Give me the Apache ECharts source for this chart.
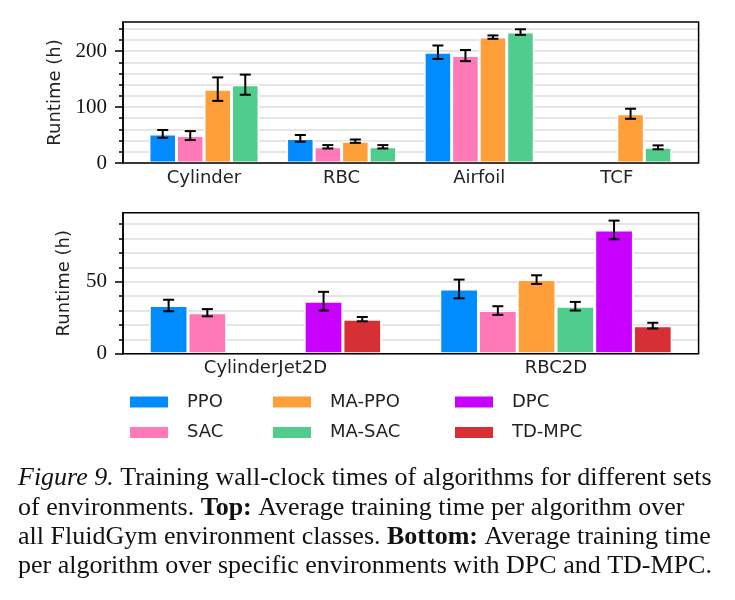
<!DOCTYPE html>
<html>
<head>
<meta charset="utf-8">
<script src="https://cdn.jsdelivr.net/npm/echarts@6/dist/echarts.min.js"></script>
<style>
  html, body { margin: 0; padding: 0; background: #fff; }
  #chart { width: 735px; height: 600px; }
</style>
</head>
<body>
<div id="chart"></div>
<script>
// top panel: environment classes
var topCats = ["Cylinder", "RBC", "Airfoil", "TCF"];
var ppoTop = [52, 44, 198, null];
var ppoTopErr = [7, 6, 12, null];
var sacTop = [49, 29, 192, null];
var sacTopErr = [8, 3, 10, null];
var mappoTop = [132, 39, 225, 88];
var mappoTopErr = [21, 3, 3, 9];
var masacTop = [140, 29, 234, 28];
var masacTopErr = [18, 3, 5, 3.5];

// bottom panel: specific environments
var botCats = ["CylinderJet2D", "RBC2D"];
var ppoBot = [33.5, 45];
var ppoBotErr = [4, 6.5];
var sacBot = [28.5, 30];
var sacBotErr = [2.5, 3];
var mappoBot = [null, 51.5];
var mappoBotErr = [null, 3];
var masacBot = [null, 33];
var masacBotErr = [null, 3];
var dpcBot = [36.5, 86];
var dpcBotErr = [6.5, 6.5];
var tdmpcBot = [24, 19.5];
var tdmpcBotErr = [1.5, 2];

// axis ticks
var topMinorTicks = [0, 20, 40, 60, 80, 100, 120, 140, 160, 180, 200, 220, 240];
var topMajorTicks = [0, 100, 200];
var botMinorTicks = [0, 10, 20, 30, 40, 50, 60, 70, 80, 90];
var botMajorTicks = [0, 50];

var color = {
   "PPO": "#008cff",
   "SAC": "#ff78b8",
   "MA-PPO": "#ff9f3a",
   "MA-SAC": "#50cc8c",
   "DPC": "#c800ff",
   "TD-MPC": "#d63035"
};

var sans = "DejaVu Sans";
var serif = "Liberation Serif";

var chart = echarts.init(document.getElementById("chart"));

function barSeries(name, vals, axisIdx, width) {
   return {
      type: "bar",
      name: name,
      xAxisIndex: axisIdx,
      yAxisIndex: axisIdx + 1,
      data: vals,
      barWidth: width,
      barGap: "0%",
      z: 2,
      itemStyle: { color: color[name], borderColor: "#fff", borderWidth: 1.5 }
   };
}

function errSeries(vals, errs, idx, n, axisIdx) {
   var d = [];
   for (var i = 0; i < vals.length; i++) {
      if (vals[i] != null) d.push([i, vals[i], errs[i]]);
   }
   return {
      type: "custom",
      xAxisIndex: axisIdx,
      yAxisIndex: axisIdx + 1,
      data: d,
      z: 4,
      silent: true,
      renderItem: function (params, api) {
         var c = api.value(0), v = api.value(1), e = api.value(2);
         var band = api.size([1, 0])[0];
         var step = band * 0.8 / n;
         var x = api.coord([c, v])[0] + (idx - (n - 1) / 2) * step;
         var hi = api.coord([c, v + e])[1];
         var lo = api.coord([c, v - e])[1];
         var cap = 5.5;
         var st = { stroke: "#000", lineWidth: 2 };
         return {
            type: "group",
            children: [
               { type: "line", shape: { x1: x, y1: hi, x2: x, y2: lo }, style: st },
               { type: "line", shape: { x1: x - cap, y1: hi, x2: x + cap, y2: hi }, style: st },
               { type: "line", shape: { x1: x - cap, y1: lo, x2: x + cap, y2: lo }, style: st }
            ]
         };
      }
   };
}

function frameY(grid, max, minor, major, gap) {
   return [{
      gridIndex: grid, type: "value", min: 0, max: max, interval: minor[1] - minor[0],
      axisLine: { show: true, lineStyle: { color: "#000", width: 1.5 } },
      axisTick: { show: true, length: 4, customValues: minor, lineStyle: { color: "#000", width: 1.5 } },
      axisLabel: { show: false },
      splitLine: { show: true, lineStyle: { color: "#dcdcdc", width: 1.5 } }
   }, {
      gridIndex: grid, type: "value", min: 0, max: max, position: "left",
      axisLine: { show: false },
      axisTick: { show: true, length: 8, customValues: major, lineStyle: { color: "#000", width: 1.5 } },
      axisLabel: { show: true, customValues: major, margin: 16, fontFamily: serif, fontSize: 21, color: "#111" },
      splitLine: { show: false },
      name: "Runtime (h)", nameLocation: "middle", nameGap: gap,
      nameTextStyle: { fontFamily: sans, fontSize: 18, color: "#222" }
   }];
}

function dataY(grid, max) {
   return { gridIndex: grid, type: "value", min: 0, max: max, show: false, splitLine: { show: false } };
}

function catX(grid, cats) {
   return {
      gridIndex: grid, type: "category", data: cats,
      axisLine: { show: false }, axisTick: { show: false },
      axisLabel: { margin: 6, fontFamily: sans, fontSize: 18, color: "#222" }
   };
}

function legendCol(names, left) {
   return {
      data: names, left: left, top: 393, orient: "vertical", padding: 0,
      itemWidth: 40, itemHeight: 13, itemGap: 12.5, icon: "rect",
      selectedMode: false,
      textStyle: { fontFamily: sans, fontSize: 18, color: "#222", lineHeight: 18, padding: [0, 0, 0, 13] }
   };
}

var capRich = {
   i: { fontFamily: serif, fontSize: 26, fontStyle: "italic", color: "#111" },
   b: { fontFamily: serif, fontSize: 26, fontWeight: "bold", color: "#111" }
};
var captionLines = [
   "{i|Figure 9.} Training wall-clock times of algorithms for different sets",
   "of environments. {b|Top:} Average training time per algorithm over",
   "all FluidGym environment classes. {b|Bottom:} Average training time",
   "per algorithm over specific environments with DPC and TD-MPC."
];
var captionY = [480, 510, 539, 568];

var option = {
   animation: false,
   backgroundColor: "#fff",
   grid: [
      { left: 123, top: 22, width: 575.6, height: 141, show: true, borderColor: "#000", borderWidth: 1.5, z: 5 },
      { left: 135.2, top: 22, width: 550.4, height: 141 },
      { left: 123, top: 212.7, width: 575.6, height: 141, show: true, borderColor: "#000", borderWidth: 1.5, z: 5 },
      { left: 120.2, top: 212.7, width: 581, height: 141 }
   ],
   xAxis: [
      { gridIndex: 0, type: "value", show: false, min: 0, max: 1 },
      catX(1, topCats),
      { gridIndex: 2, type: "value", show: false, min: 0, max: 1 },
      catX(3, botCats)
   ],
   yAxis: [].concat(
      frameY(0, 252, topMinorTicks, topMajorTicks, 58)
   ),
   legend: [
      legendCol(["PPO", "SAC"], 128),
      legendCol(["MA-PPO", "MA-SAC"], 271),
      legendCol(["DPC", "TD-MPC"], 453)
   ],
   graphic: captionLines.map(function (t, i) {
      return {
         type: "text", left: 18, top: captionY[i] - 15,
         style: { text: t, font: "26px 'Liberation Serif'", fill: "#111", rich: capRich }
      };
   }),
   series: []
};

// y axes: 0,1 top frame; 2 top data; 3,4 bottom frame; 5 bottom data
option.yAxis.push(dataY(1, 252));
option.yAxis = option.yAxis.concat(frameY(2, 98, botMinorTicks, botMajorTicks, 50));
option.yAxis.push(dataY(3, 98));

var topSeries = [["PPO", ppoTop, ppoTopErr], ["SAC", sacTop, sacTopErr], ["MA-PPO", mappoTop, mappoTopErr], ["MA-SAC", masacTop, masacTopErr]];
var botSeries = [["PPO", ppoBot, ppoBotErr], ["SAC", sacBot, sacBotErr], ["MA-PPO", mappoBot, mappoBotErr], ["MA-SAC", masacBot, masacBotErr], ["DPC", dpcBot, dpcBotErr], ["TD-MPC", tdmpcBot, tdmpcBotErr]];

topSeries.forEach(function (s) {
   var b = barSeries(s[0], s[1], 1, "20%");
   b.yAxisIndex = 2;
   option.series.push(b);
});
botSeries.forEach(function (s) {
   var b = barSeries(s[0], s[1], 3, "13.333%");
   b.yAxisIndex = 5;
   option.series.push(b);
});
topSeries.forEach(function (s, i) {
   var e = errSeries(s[1], s[2], i, 4, 1);
   e.yAxisIndex = 2;
   option.series.push(e);
});
botSeries.forEach(function (s, i) {
   var e = errSeries(s[1], s[2], i, 6, 3);
   e.yAxisIndex = 5;
   option.series.push(e);
});

chart.setOption(option);
</script>
</body>
</html>
